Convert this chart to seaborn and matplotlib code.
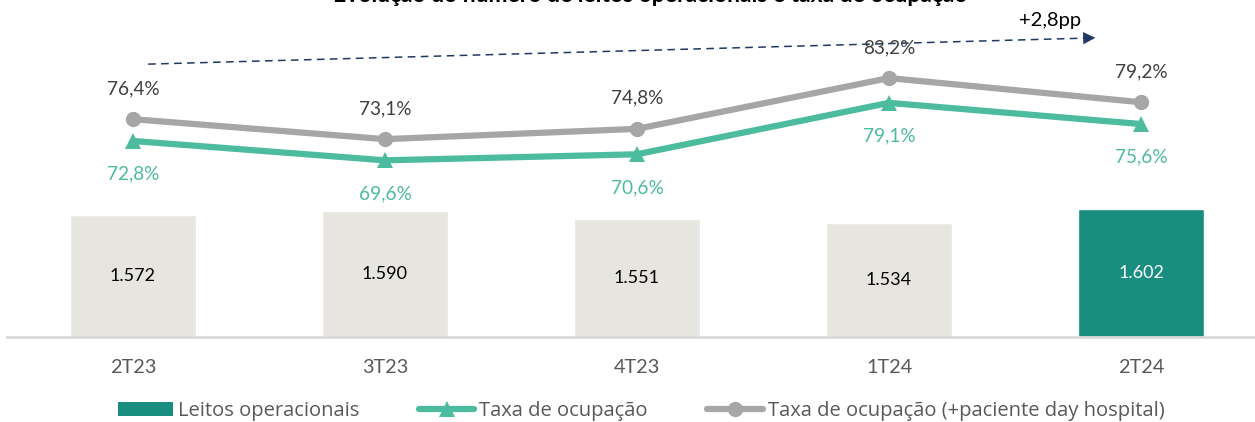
import matplotlib
matplotlib.use("Agg")
import matplotlib.pyplot as plt
import seaborn as sns
import pandas as pd
from matplotlib.lines import Line2D
from matplotlib.patches import Patch

# ---- data ----
categories = ["2T23", "3T23", "4T23", "1T24", "2T24"]
leitos = [1572, 1590, 1551, 1534, 1602]
taxa = [72.8, 69.6, 70.6, 79.1, 75.6]
taxa_day = [76.4, 73.1, 74.8, 83.2, 79.2]
title = "Evolução do número de leitos operacionais e taxa de ocupação"
delta_label = "+2,8pp"
legend_labels = ["Leitos operacionais", "Taxa de ocupação",
                 "Taxa de ocupação (+paciente day hospital)"]

# ---- style ----
sns.set_theme(style="white")
plt.rcParams["font.family"] = ["Lato", "DejaVu Sans"]

BAR_LIGHT = "#E7E5DF"
BAR_DARK = "#198D7F"
GREEN = "#4CBB9E"
GRAY = "#A6A6A6"
LABEL_GRAY = "#404040"
TICK_GRAY = "#595959"
NAVY = "#1F3864"

W, H = 1255, 422
fig = plt.figure(figsize=(W / 100, H / 100), dpi=100)
ax = fig.add_axes([7 / W, 85 / H, 1260 / W, 337 / H])

df = pd.DataFrame({"cat": categories, "leitos": leitos})
palette = {c: BAR_LIGHT for c in categories}
palette[categories[-1]] = BAR_DARK
sns.barplot(data=df, x="cat", y="leitos", hue="cat", palette=palette,
            width=0.5, ax=ax, legend=False, saturation=1)
ax.set_xlim(-0.5, len(categories) - 0.5)
ax.set_ylim(992.5, 2593)
for spine in ["top", "right", "left"]:
    ax.spines[spine].set_visible(False)
ax.spines["bottom"].set_color("#D9D9D9")
ax.spines["bottom"].set_linewidth(2)
ax.set_yticks([])
ax.set_xlabel("")
ax.set_ylabel("")
ax.tick_params(axis="x", length=0, pad=16, labelsize=14.3, labelcolor=TICK_GRAY)

for i, cont in enumerate(ax.containers):
    labels = [f"{int(round(v)):,}".replace(",", ".") for v in cont.datavalues]
    col = "white" if categories[i] == categories[-1] else "black"
    ax.bar_label(cont, labels=labels, label_type="center", fontsize=13,
                 color=col, padding=0)

# ---- lines on twin axis ----
ax2 = ax.twinx()
ax2.set_ylim(40.4, 96.1)
ax2.set_yticks([])
for spine in ax2.spines.values():
    spine.set_visible(False)
xs = list(range(len(categories)))
sns.lineplot(x=xs, y=taxa_day, ax=ax2, color=GRAY, lw=4.5, marker="o",
             markersize=11, markeredgewidth=0, legend=False)
sns.lineplot(x=xs, y=taxa, ax=ax2, color=GREEN, lw=4.5, marker="^",
             markersize=11, markeredgewidth=0, legend=False)
ax2.set_xlim(-0.5, len(categories) - 0.5)

for x, v in zip(xs, taxa_day):
    ax2.annotate(f"{v:.1f}%".replace(".", ","), (x, v), xytext=(0, 22),
                 textcoords="offset points", ha="center", va="center",
                 fontsize=13.7, color=LABEL_GRAY)
for x, v in zip(xs, taxa):
    ax2.annotate(f"{v:.1f}%".replace(".", ","), (x, v), xytext=(0, -24),
                 textcoords="offset points", ha="center", va="center",
                 fontsize=13.7, color=GREEN)

# dashed trend arrow
x0, y0, x1, y1 = 0.06, 85.5, 3.78, 89.8
ax2.plot([x0, x1], [y0, y1], ls=(0, (5, 3.5)), color=NAVY, lw=1.1)
ax2.annotate("", xy=(x1 + 0.05, y1 + 0.06), xytext=(x1 - 0.02, y1 - 0.02),
             arrowprops=dict(arrowstyle="-|>", color=NAVY, lw=0,
                             mutation_scale=22))
ax2.text(3.64, 92.7, delta_label, ha="center", va="center", fontsize=14.5,
         color="black")

# clipped title at top
fig.text(650 / W, 1 - 2 / H, title, ha="center", va="baseline",
         fontsize=16.5, fontweight="bold", color="black")

# legend
handles = [
    Patch(facecolor=BAR_DARK, edgecolor="none"),
    Line2D([0], [0], color=GREEN, lw=4.5, marker="^", markersize=11,
           markeredgewidth=0),
    Line2D([0], [0], color=GRAY, lw=4.5, marker="o", markersize=11,
           markeredgewidth=0),
]
fig.legend(handles, legend_labels, loc="center", bbox_to_anchor=(641 / W, 1 - 411 / H),
           ncol=3, frameon=False, prop={"family": ["Open Sans", "DejaVu Sans"], "size": 14.5},
           labelcolor=TICK_GRAY, handlelength=2.75, handletextpad=0.25,
           columnspacing=2.95, handleheight=0.7, borderpad=0)

fig.savefig("out.png", dpi=100)
